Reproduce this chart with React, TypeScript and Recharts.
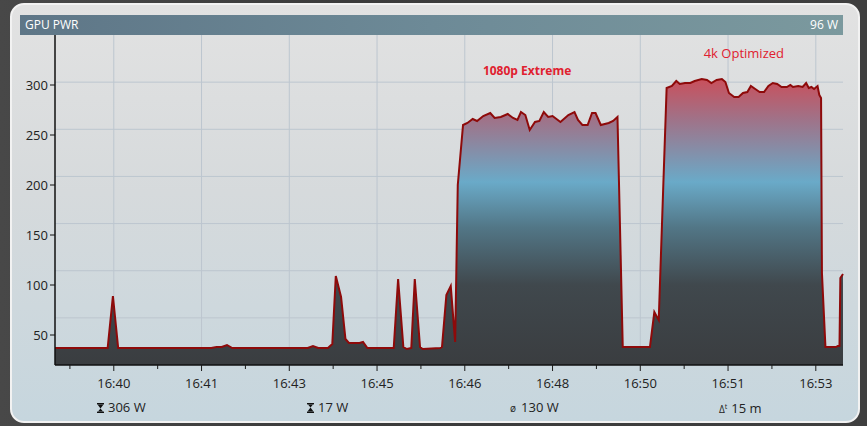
import { ComposedChart, Area, XAxis, YAxis, CartesianGrid, ReferenceDot } from "recharts"

// seconds since 16:38:53, sampled points of GPU power in watts
const times = [
  0, 60, 66, 72, 178, 184, 190, 196, 202, 288, 294, 300, 311, 316, 320, 326, 331, 335, 347, 351,
  356, 386, 391, 397, 401, 406, 410, 416, 419, 439, 441, 446, 451, 456, 459, 465, 470, 476, 481, 488,
  496, 501, 508, 516, 522, 527, 531, 536, 541, 547, 552, 557, 562, 567, 576, 585, 592, 596, 601, 607,
  612, 616, 622, 631, 636, 641, 647, 678, 683, 686, 688, 697, 703, 708, 712, 718, 724, 729, 737, 743,
  748, 754, 760, 764, 768, 774, 779, 784, 789, 793, 798, 803, 808, 813, 818, 823, 828, 834, 838, 841,
  847, 852, 856, 859, 862, 865, 869, 871, 873, 874, 878, 890, 892, 894, 895, 898,
]
const watts = [
  37, 37, 89, 37, 37, 38, 38, 40, 37, 37, 39, 37, 37, 41, 109, 88, 46, 42, 42, 43,
  37, 37, 106, 38, 36, 37, 106, 38, 36, 37, 38, 90, 99, 43, 200, 260, 262, 266, 264, 269,
  272, 267, 268, 271, 267, 265, 273, 270, 255, 263, 264, 273, 268, 269, 263, 270, 273, 265, 260, 260,
  272, 272, 260, 262, 264, 268, 38, 38, 73, 68, 65, 297, 299, 304, 301, 302, 302, 304, 306, 305,
  302, 305, 306, 303, 292, 288, 288, 292, 293, 299, 296, 293, 293, 299, 302, 301, 298, 298, 300, 298,
  299, 298, 302, 297, 298, 296, 299, 290, 287, 112, 38, 38, 39, 39, 107, 111,
]

const majorTicks = [67, 167, 267, 367, 467, 567, 667, 767, 867]
const minorTicks = [17, 117, 217, 317, 417, 517, 617, 717, 817]
const tickLabels = ["16:40", "16:41", "16:43", "16:45", "16:46", "16:48", "16:50", "16:51", "16:53"]
const yTicks = [50, 100, 150, 200, 250, 300]
const yDomain = [20, 350]
const xDomain = [0, 898]
const gridRows = 7

const annotations = [
  { t: 538, w: 314, text: "1080p Extreme", bold: true },
  { t: 785, w: 332, text: "4k Optimized", bold: false },
]

const stats = [
  { icon: "max", text: "306 W", left: 97 },
  { icon: "min", text: "17 W", left: 307 },
  { icon: "avg", text: "130 W", left: 510 },
  { icon: "dt", text: "15 m", left: 719 },
]

const data = times.map((t, i) => ({ t, w: watts[i] }))
const allTicks = [...minorTicks, ...majorTicks].sort((a, b) => a - b)

const font = "'Open Sans', 'Noto Sans', sans-serif"

function XTick(props: any) {
  const { x, y, payload } = props
  const idx = majorTicks.indexOf(payload.value)
  const major = idx >= 0
  return (
    <g>
      <line x1={x} x2={x} y1={y} y2={y + (major ? 6 : 4)} stroke="#1a1a1a" strokeWidth={1} />
      {major && (
        <text x={x} y={y + 23} textAnchor="middle" fontSize={13} fill="#222" fontFamily={font}>
          {tickLabels[idx]}
        </text>
      )}
    </g>
  )
}

function Icon({ kind }: { kind: string }) {
  if (kind === "max" || kind === "min") {
    return (
      <svg width={7} height={10} style={{ marginRight: 4, verticalAlign: "-1px" }}>
        <rect x={0} y={0} width={7} height={1.4} fill="#111" />
        <rect x={0} y={8.6} width={7} height={1.4} fill="#111" />
        {kind === "max" ? (
          <polygon points="0.5,1.4 6.5,1.4 3.5,5.5 6,8.6 1,8.6 3.5,5.5" fill="#111" />
        ) : (
          <polygon points="1,1.4 6,1.4 3.5,4.5 6.5,8.6 0.5,8.6 3.5,4.5" fill="#111" />
        )}
      </svg>
    )
  }
  if (kind === "avg") return <span style={{ fontSize: 10, marginRight: 5 }}>ø</span>
  return (
    <span style={{ fontSize: 10, marginRight: 4 }}>
      Δ<span style={{ fontSize: 7, verticalAlign: "4px" }}>t</span>
    </span>
  )
}

export default function App() {
  return (
    <div
      style={{
        position: "absolute",
        left: 0,
        top: 0,
        width: 867,
        height: 426,
        background: "linear-gradient(90deg, #484848, #3b3b3b 40%, #3f3f3f)",
        fontFamily: font,
        overflow: "hidden",
      }}
    >
      <div
        style={{
          position: "absolute",
          left: 10,
          top: 3,
          width: 846,
          height: 416,
          borderRadius: 14,
          border: "2px solid #f2f2f2",
          background: "linear-gradient(180deg, #e2e2e2 0%, #d6dadc 45%, #c6d6de 100%)",
        }}
      />
      <div
        style={{
          position: "absolute",
          left: 20,
          top: 15,
          width: 823,
          height: 20,
          background: "linear-gradient(90deg, #5e7687, #6d8a97 50%, #7b999e)",
          color: "#fff",
          fontSize: 12,
          lineHeight: "20px",
        }}
      >
        <span style={{ position: "absolute", left: 5 }}>GPU PWR</span>
        <span style={{ position: "absolute", right: 5 }}>96 W</span>
      </div>
      <div style={{ position: "absolute", left: 0, top: 0 }}>
        <ComposedChart width={867} height={426} data={data} margin={{ top: 35, right: 24, bottom: 31, left: 10 }}>
          <defs>
            <linearGradient id="pwrFill" x1="0" y1="0" x2="0" y2="1">
              <stop offset="0" stopColor="#c9505c" />
              <stop offset="0.14" stopColor="#a07288" />
              <stop offset="0.36" stopColor="#6aaac8" />
              <stop offset="0.52" stopColor="#527686" />
              <stop offset="0.72" stopColor="#40484d" />
              <stop offset="1" stopColor="#3a3d40" />
            </linearGradient>
          </defs>
          <CartesianGrid
            stroke="#bcc6cf"
            strokeWidth={1}
            horizontalCoordinatesGenerator={({ offset }: any) =>
              Array.from({ length: gridRows - 1 }, (_, k) => offset.top + ((k + 1) * offset.height) / gridRows)
            }
            verticalCoordinatesGenerator={({ offset }: any) =>
              majorTicks.map((t) => offset.left + ((t - xDomain[0]) / (xDomain[1] - xDomain[0])) * offset.width)
            }
          />
          <XAxis
            dataKey="t"
            type="number"
            domain={xDomain}
            ticks={allTicks}
            interval={0}
            tick={<XTick />}
            tickLine={false}
            tickSize={0}
            tickMargin={0}
            height={30}
            axisLine={{ stroke: "#111", strokeWidth: 1.5 }}
          />
          <YAxis
            type="number"
            domain={yDomain}
            ticks={yTicks}
            width={45}
            tickSize={5}
            tickMargin={2}
            tick={{ fontSize: 13, fill: "#222", fontFamily: font }}
            tickLine={{ stroke: "#111" }}
            axisLine={{ stroke: "#111", strokeWidth: 1.5 }}
          />
          <Area
            type="linear"
            dataKey="w"
            stroke="#8e0a0a"
            strokeWidth={2}
            fill="url(#pwrFill)"
            fillOpacity={1}
            dot={false}
            activeDot={false}
            isAnimationActive={false}
          />
          {annotations.map((a) => (
            <ReferenceDot
              key={a.text}
              x={a.t}
              y={a.w}
              r={0}
              stroke="none"
              label={{
                value: a.text,
                position: "center",
                fill: "#e0212f",
                fontSize: a.bold ? 12 : 13,
                fontWeight: a.bold ? 700 : 400,
                fontFamily: font,
              }}
            />
          ))}
        </ComposedChart>
      </div>
      {stats.map((s) => (
        <div
          key={s.text}
          style={{
            position: "absolute",
            left: s.left,
            top: 398,
            fontSize: 13,
            color: "#222",
            lineHeight: "18px",
            whiteSpace: "nowrap",
          }}
        >
          <Icon kind={s.icon} />
          {s.text}
        </div>
      ))}
    </div>
  )
}
